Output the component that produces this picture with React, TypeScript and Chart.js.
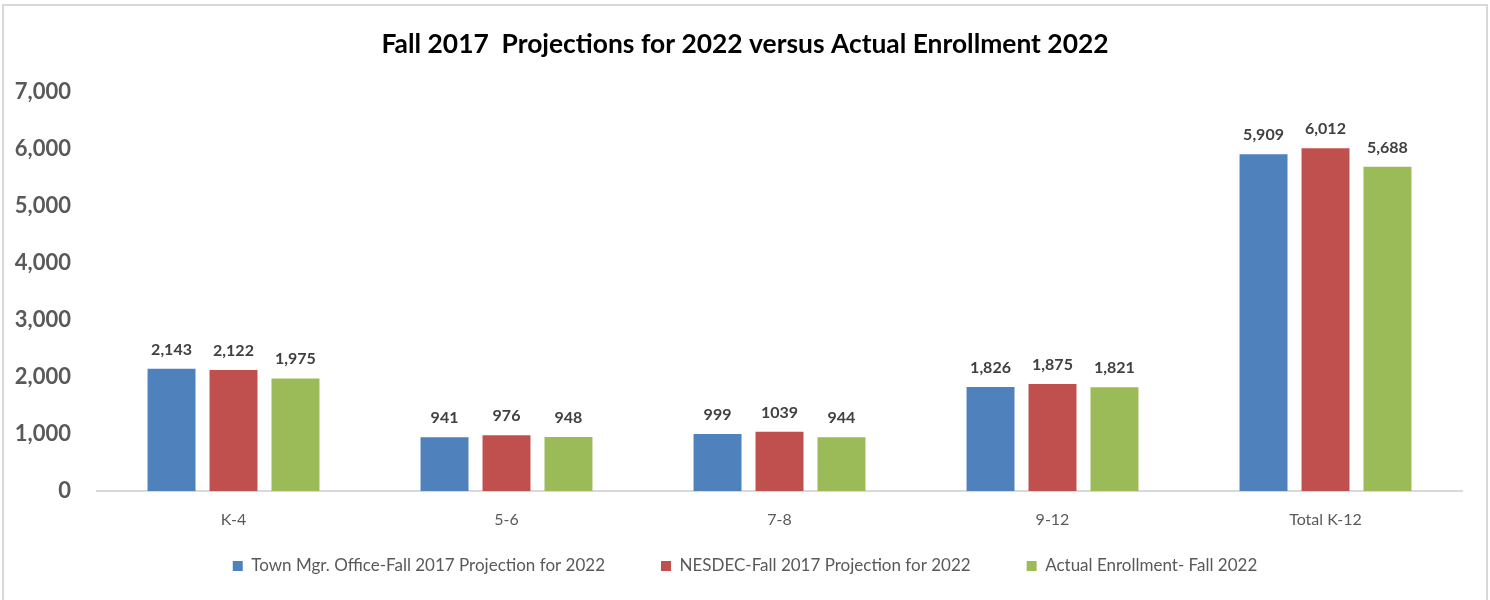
import React, { useEffect, useRef } from "react";
import { Chart, registerables } from "chart.js";

Chart.register(...registerables);

const categories = ["K-4", "5-6", "7-8", "9-12", "Total K-12"];
const townMgrValues = [2143, 941, 999, 1826, 5909];
const nesdecValues = [2122, 976, 1039, 1875, 6012];
const actualValues = [1975, 948, 944, 1821, 5688];
const seriesNames = [
  "Town Mgr. Office-Fall 2017 Projection for 2022",
  "NESDEC-Fall 2017 Projection for 2022",
  "Actual Enrollment- Fall 2022",
];
// index of values whose label was shown without thousands separator in the source
const nesdecPlainLabelIdx = [2];
const yTicks = [0, 1000, 2000, 3000, 4000, 5000, 6000, 7000];

const FONT = "Lato, 'Open Sans', sans-serif";

const dataLabelPlugin = {
  id: "dataLabels",
  afterDatasetsDraw(chart: any) {
    const ctx = chart.ctx;
    ctx.save();
    ctx.font = `bold 16px ${FONT}`;
    ctx.fillStyle = "#404040";
    ctx.textAlign = "center";
    ctx.textBaseline = "alphabetic";
    chart.data.datasets.forEach((ds: any, di: number) => {
      const meta = chart.getDatasetMeta(di);
      meta.data.forEach((el: any, i: number) => {
        const v = ds.data[i] as number;
        const plain = di === 1 && nesdecPlainLabelIdx.includes(i);
        const txt = plain ? String(v) : v.toLocaleString("en-US");
        ctx.fillText(txt, el.x, el.y - 14);
      });
    });
    ctx.restore();
  },
};

export default function App() {
  const ref = useRef<HTMLCanvasElement | null>(null);
  useEffect(() => {
    if (!ref.current) return;
    const chart = new Chart(ref.current, {
      type: "bar",
      data: {
        labels: categories,
        datasets: [
          { label: seriesNames[0], data: townMgrValues, backgroundColor: "#4F81BD" },
          { label: seriesNames[1], data: nesdecValues, backgroundColor: "#C0504D" },
          { label: seriesNames[2], data: actualValues, backgroundColor: "#9BBB59" },
        ],
      },
      options: {
        animation: false,
        responsive: false,
        devicePixelRatio: 1,
        datasets: { bar: { categoryPercentage: 0.681, barPercentage: 0.774 } },
        layout: { padding: { left: 28, right: 28, top: 0, bottom: 15.5 } },
        plugins: {
          title: {
            display: true,
            text: "Fall 2017  Projections for 2022 versus Actual Enrollment 2022",
            color: "#000000",
            font: { family: FONT, size: 26.4, weight: "bold" },
            padding: { top: 28.2, bottom: 32.1 },
          },
          legend: {
            display: true,
            position: "bottom",
            labels: {
              boxWidth: 10,
              boxHeight: 10,
              padding: 56,
              color: "#595959",
              font: { family: FONT, size: 17 },
            },
          },
          tooltip: { enabled: false },
        },
        scales: {
          x: {
            grid: { display: false, tickLength: 0 },
            border: { display: true, color: "#d9d9d9", width: 2 },
            ticks: { color: "#595959", font: { family: FONT, size: 16 }, padding: 19 },
            afterFit: (scale: any) => {
              scale.height = 10.5;
              // let the category labels extend into the empty space above the legend
              scale._computeLabelArea = () => undefined;
            },
          },
          y: {
            min: 0,
            max: 7000,
            grid: { display: false, tickLength: 0 },
            border: { display: false },
            afterBuildTicks: (scale: any) => {
              scale.ticks = yTicks.map((v) => ({ value: v }));
            },
            ticks: {
              color: "#595959",
              font: { family: FONT, size: 22, weight: "bold" },
              padding: 26,
              callback: (v: any) => Number(v).toLocaleString("en-US"),
            },
            afterFit: (scale: any) => {
              scale.width = 69;
              scale._computeLabelArea = () => undefined;
            },
          },
        },
      },
      plugins: [dataLabelPlugin],
    });
    return () => chart.destroy();
  }, []);

  return (
    <div style={{ position: "absolute", left: 0, top: 0, width: 1490, height: 600, background: "#ffffff", overflow: "hidden" }}>
      <div
        style={{
          position: "absolute",
          left: 2,
          top: 4,
          width: 1482,
          height: 620,
          border: "2px solid #d9d9d9",
          borderBottom: "none",
        }}
      />
      <canvas ref={ref} width={1490} height={600} style={{ position: "absolute", left: 0, top: 0, width: 1490, height: 600 }} />
    </div>
  );
}
